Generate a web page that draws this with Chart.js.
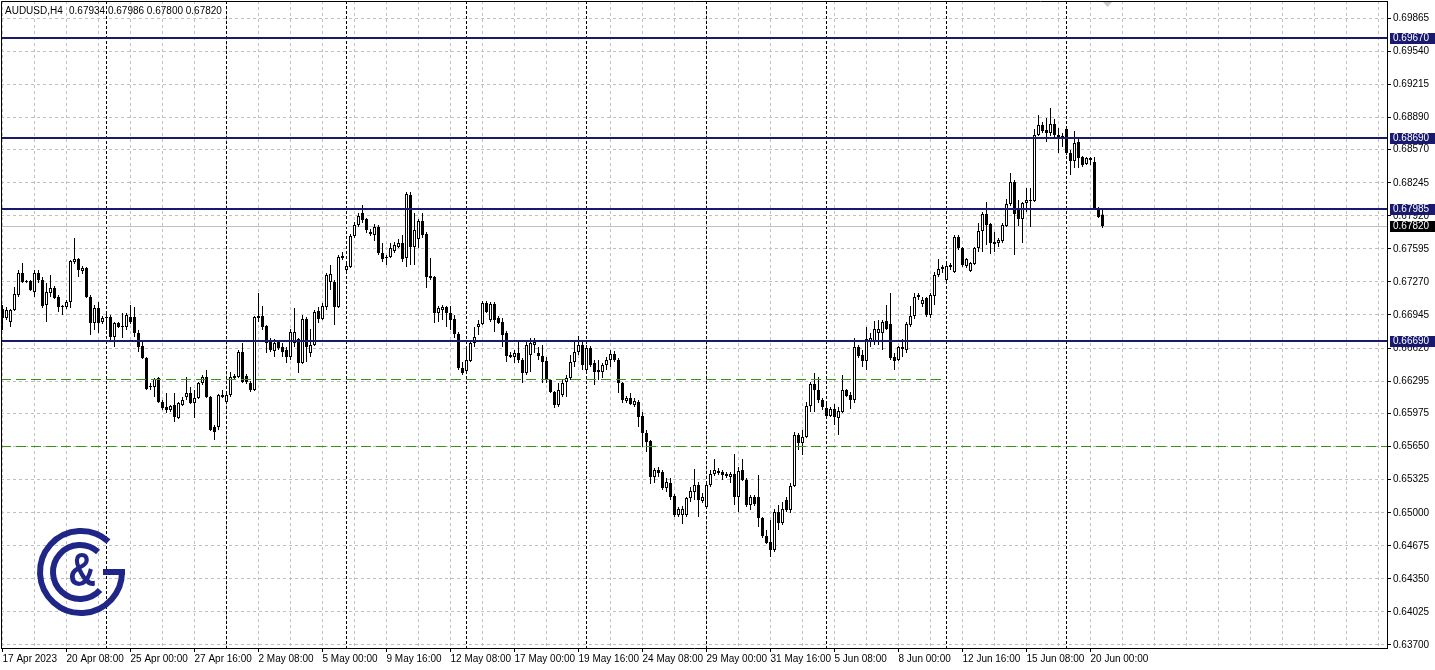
<!DOCTYPE html>
<html>
<head>
<meta charset="utf-8">
<title>AUDUSD,H4</title>
<script src="https://cdn.jsdelivr.net/npm/chart.js@4.4.0/dist/chart.umd.min.js"></script>
<style>
  html, body { margin: 0; padding: 0; background: #ffffff; }
  #wrap { width: 1435px; height: 670px; }
</style>
</head>
<body>
<div id="wrap"><canvas id="chart" width="1435" height="670"></canvas></div>
<script>
// AUDUSD H4, 17 Apr 2023 16:00 .. 20 Jun 2023 12:00, one entry per bar
const opens = [
  0.67004,0.66915,0.66876,0.66994,0.67141,0.67358,0.67279,0.67279,0.67171,0.67358,
  0.67289,0.67043,0.67161,0.67210,0.67122,0.67033,0.67023,0.67072,0.67466,0.67495,
  0.67377,0.67407,0.67122,0.66866,0.67013,0.66876,0.66925,0.66925,0.66728,0.66866,
  0.66827,0.66827,0.66925,0.66925,0.66768,0.66640,0.66522,0.66246,0.66237,0.66325,
  0.66089,0.66040,0.66010,0.66060,0.65932,0.66060,0.66138,0.66178,0.66079,0.66128,
  0.66276,0.66335,0.66138,0.65843,0.65843,0.66158,0.66089,0.66158,0.66345,0.66335,
  0.66581,0.66345,0.66276,0.66207,0.66915,0.66935,0.66836,0.66679,0.66591,0.66679,
  0.66630,0.66600,0.66532,0.66669,0.66709,0.66473,0.66905,0.66571,0.66650,0.66984,
  0.66905,0.67023,0.67269,0.67269,0.67023,0.67525,0.67387,0.67417,0.67721,0.67830,
  0.67948,0.67889,0.67761,0.67731,0.67810,0.67554,0.67515,0.67515,0.67574,0.67613,
  0.67653,0.67505,0.68125,0.67613,0.67692,0.67869,0.67741,0.67328,0.67318,0.66964,
  0.66994,0.67023,0.66964,0.66905,0.66758,0.66423,0.66394,0.66492,0.66669,0.66827,
  0.66856,0.67063,0.66895,0.67053,0.66915,0.66876,0.66768,0.66551,0.66532,0.66571,
  0.66502,0.66374,0.66551,0.66650,0.66571,0.66541,0.66492,0.66305,0.66187,0.66060,
  0.66158,0.66286,0.66325,0.66482,0.66581,0.66650,0.66404,0.66620,0.66473,0.66384,
  0.66384,0.66453,0.66502,0.66561,0.66502,0.66276,0.66099,0.66128,0.66060,0.66089,
  0.65951,0.65784,0.65706,0.65352,0.65420,0.65401,0.65243,0.65293,0.65165,0.64978,
  0.64978,0.64978,0.65145,0.65204,0.65273,0.65116,0.65057,0.65273,0.65381,0.65391,
  0.65401,0.65381,0.65352,0.65381,0.65155,0.65420,0.65322,0.65076,0.65155,0.65155,
  0.64948,0.64771,0.64712,0.64634,0.65007,0.64899,0.65125,0.65027,0.65263,0.65765,
  0.65686,0.65745,0.66050,0.66266,0.66207,0.66109,0.66030,0.65951,0.66020,0.65932,
  0.65991,0.66207,0.66158,0.66109,0.66630,0.66551,0.66492,0.66679,0.66689,0.66768,
  0.66768,0.66886,0.66856,0.66532,0.66502,0.66630,0.66600,0.66846,0.66935,0.67122,
  0.67053,0.67112,0.66945,0.67131,0.67338,0.67397,0.67289,0.67417,0.67367,0.67712,
  0.67603,0.67426,0.67377,0.67446,0.67603,0.67771,0.67938,0.67839,0.67662,0.67653,
  0.67672,0.67820,0.68036,0.68252,0.67997,0.67889,0.68046,0.68075,0.68066,0.68715,
  0.68813,0.68764,0.68734,0.68823,0.68715,0.68675,0.68774,0.68538,0.68459,0.68646,
  0.68498,0.68429,0.68488,0.68449,0.67997,0.67934
];
const highs = [
  0.67043,0.67023,0.67004,0.67220,0.67387,0.67456,0.67289,0.67289,0.67387,0.67387,
  0.67318,0.67259,0.67338,0.67230,0.67141,0.67043,0.67092,0.67485,0.67702,0.67505,
  0.67426,0.67417,0.67141,0.67043,0.67072,0.66935,0.66954,0.66945,0.66876,0.66876,
  0.66964,0.66964,0.67043,0.67023,0.66797,0.66679,0.66532,0.66276,0.66325,0.66335,
  0.66109,0.66178,0.66060,0.66178,0.66089,0.66138,0.66335,0.66237,0.66207,0.66286,
  0.66355,0.66404,0.66148,0.65863,0.66168,0.66207,0.66178,0.66384,0.66364,0.66600,
  0.66669,0.66364,0.66296,0.66935,0.67161,0.67033,0.66846,0.66718,0.66709,0.66699,
  0.66669,0.66630,0.66807,0.67013,0.66718,0.66945,0.66925,0.66807,0.66994,0.67023,
  0.67063,0.67358,0.67436,0.67289,0.67535,0.67564,0.67466,0.67741,0.67859,0.67948,
  0.68026,0.67898,0.67790,0.67839,0.67830,0.67653,0.67535,0.67653,0.67662,0.67692,
  0.67731,0.68154,0.68154,0.67948,0.67889,0.67948,0.67761,0.67505,0.67328,0.67033,
  0.67043,0.67033,0.67033,0.66945,0.66777,0.66482,0.66630,0.66699,0.66827,0.66895,
  0.67082,0.67082,0.67072,0.67072,0.66935,0.66915,0.66787,0.66581,0.66600,0.66679,
  0.66522,0.66679,0.66718,0.66718,0.66630,0.66650,0.66532,0.66315,0.66197,0.66276,
  0.66305,0.66355,0.66551,0.66699,0.66738,0.66699,0.66650,0.66640,0.66502,0.66502,
  0.66473,0.66532,0.66600,0.66591,0.66522,0.66286,0.66148,0.66178,0.66128,0.66109,
  0.65991,0.65814,0.65715,0.65440,0.65450,0.65420,0.65342,0.65342,0.65184,0.65057,
  0.65066,0.65155,0.65253,0.65430,0.65302,0.65194,0.65293,0.65420,0.65529,0.65440,
  0.65420,0.65401,0.65401,0.65578,0.65450,0.65529,0.65342,0.65174,0.65174,0.65371,
  0.64958,0.64830,0.64929,0.65037,0.65076,0.65106,0.65155,0.65293,0.65794,0.65784,
  0.65814,0.66089,0.66286,0.66374,0.66335,0.66128,0.66079,0.66040,0.66069,0.66040,
  0.66355,0.66217,0.66187,0.66718,0.66650,0.66600,0.66827,0.66768,0.66886,0.66895,
  0.66895,0.67043,0.67161,0.66571,0.66640,0.66709,0.66876,0.67033,0.67161,0.67161,
  0.67122,0.67122,0.67161,0.67367,0.67495,0.67436,0.67456,0.67456,0.67731,0.67731,
  0.67613,0.67505,0.67466,0.67613,0.67849,0.67958,0.68056,0.67849,0.67761,0.67702,
  0.67849,0.68085,0.68341,0.68272,0.68075,0.68056,0.68193,0.68193,0.68774,0.68911,
  0.68842,0.68882,0.68980,0.68872,0.68783,0.68734,0.68783,0.68567,0.68754,0.68675,
  0.68508,0.68498,0.68498,0.68498,0.68007,0.67986
];
const lows = [
  0.66797,0.66895,0.66827,0.66984,0.67122,0.67259,0.67259,0.67181,0.67122,0.67259,
  0.67013,0.66876,0.67122,0.67102,0.66974,0.66945,0.67004,0.67013,0.67446,0.67318,
  0.67348,0.67112,0.66748,0.66797,0.66768,0.66856,0.66797,0.66699,0.66630,0.66817,
  0.66718,0.66797,0.66856,0.66728,0.66581,0.66512,0.66207,0.66207,0.66138,0.66079,
  0.66010,0.65981,0.65991,0.65892,0.65922,0.66050,0.66109,0.66069,0.65932,0.66119,
  0.66256,0.66128,0.65804,0.65715,0.65814,0.66128,0.66069,0.66138,0.66305,0.66325,
  0.66276,0.66266,0.66187,0.66197,0.66876,0.66797,0.66571,0.66581,0.66532,0.66600,
  0.66532,0.66473,0.66502,0.66630,0.66374,0.66463,0.66482,0.66532,0.66640,0.66866,
  0.66895,0.66994,0.67190,0.66846,0.67013,0.67485,0.67367,0.67407,0.67702,0.67810,
  0.67849,0.67751,0.67721,0.67672,0.67535,0.67466,0.67436,0.67505,0.67554,0.67603,
  0.67466,0.67417,0.67436,0.67436,0.67603,0.67702,0.67210,0.67289,0.66866,0.66876,
  0.66895,0.66827,0.66797,0.66718,0.66404,0.66355,0.66374,0.66482,0.66630,0.66748,
  0.66846,0.66964,0.66876,0.66777,0.66856,0.66630,0.66482,0.66522,0.66473,0.66473,
  0.66276,0.66355,0.66384,0.66571,0.66502,0.66276,0.66276,0.66178,0.66030,0.66040,
  0.66138,0.66138,0.66305,0.66433,0.66551,0.66404,0.66384,0.66433,0.66256,0.66305,
  0.66325,0.66404,0.66433,0.66482,0.66178,0.66079,0.66079,0.66060,0.66040,0.65843,
  0.65647,0.65597,0.65283,0.65293,0.65352,0.65224,0.65204,0.65125,0.64958,0.64958,
  0.64889,0.64958,0.65106,0.65125,0.64958,0.65096,0.65047,0.65253,0.65361,0.65371,
  0.65322,0.65342,0.65293,0.65076,0.65007,0.65312,0.65057,0.65027,0.65066,0.64860,
  0.64752,0.64693,0.64565,0.64614,0.64830,0.64880,0.65007,0.64997,0.65253,0.65617,
  0.65568,0.65735,0.65991,0.65991,0.66079,0.66010,0.65932,0.65942,0.65863,0.65765,
  0.65981,0.66138,0.66020,0.66079,0.66522,0.66433,0.66404,0.66630,0.66650,0.66650,
  0.66600,0.66797,0.66502,0.66404,0.66492,0.66532,0.66571,0.66827,0.66905,0.67092,
  0.67023,0.66925,0.66915,0.67043,0.67318,0.67358,0.67269,0.67387,0.67358,0.67584,
  0.67417,0.67407,0.67367,0.67436,0.67564,0.67564,0.67633,0.67544,0.67564,0.67613,
  0.67653,0.67810,0.68016,0.67535,0.67820,0.67653,0.67957,0.67810,0.68056,0.68705,
  0.68734,0.68646,0.68705,0.68685,0.68538,0.68597,0.68518,0.68321,0.68390,0.68390,
  0.68400,0.68420,0.68420,0.67977,0.67898,0.67800
];
const closes = [
  0.66915,0.66994,0.66994,0.67151,0.67358,0.67269,0.67269,0.67190,0.67358,0.67289,
  0.67033,0.67171,0.67210,0.67112,0.67023,0.67023,0.67072,0.67476,0.67495,0.67387,
  0.67407,0.67122,0.66866,0.67013,0.66866,0.66915,0.66915,0.66728,0.66866,0.66827,
  0.66836,0.66945,0.66876,0.66768,0.66630,0.66522,0.66217,0.66237,0.66315,0.66089,
  0.66030,0.66010,0.66050,0.65942,0.66079,0.66109,0.66178,0.66079,0.66128,0.66276,
  0.66335,0.66138,0.65814,0.65794,0.66158,0.66138,0.66158,0.66335,0.66325,0.66581,
  0.66286,0.66286,0.66207,0.66925,0.66935,0.66827,0.66669,0.66600,0.66669,0.66620,
  0.66581,0.66532,0.66777,0.66777,0.66473,0.66905,0.66630,0.66650,0.66974,0.66905,
  0.67033,0.67338,0.67348,0.67023,0.67515,0.67505,0.67426,0.67721,0.67830,0.67918,
  0.67879,0.67780,0.67741,0.67810,0.67554,0.67495,0.67505,0.67603,0.67633,0.67653,
  0.67495,0.68134,0.67613,0.67780,0.67869,0.67731,0.67318,0.67308,0.66964,0.67013,
  0.67023,0.66964,0.66895,0.66758,0.66423,0.66374,0.66502,0.66669,0.66728,0.66856,
  0.67063,0.66974,0.67053,0.66895,0.66866,0.66748,0.66541,0.66532,0.66571,0.66502,
  0.66374,0.66650,0.66669,0.66679,0.66541,0.66482,0.66305,0.66187,0.66060,0.66207,
  0.66276,0.66325,0.66482,0.66581,0.66650,0.66453,0.66620,0.66453,0.66384,0.66404,
  0.66453,0.66502,0.66561,0.66502,0.66276,0.66109,0.66128,0.66069,0.66099,0.65942,
  0.65784,0.65696,0.65352,0.65420,0.65391,0.65243,0.65302,0.65155,0.64978,0.65037,
  0.65037,0.65145,0.65214,0.65273,0.65125,0.65155,0.65273,0.65381,0.65420,0.65410,
  0.65371,0.65361,0.65381,0.65155,0.65410,0.65322,0.65076,0.65155,0.65086,0.64948,
  0.64771,0.64703,0.64634,0.65007,0.64899,0.65037,0.65027,0.65263,0.65765,0.65686,
  0.65745,0.66050,0.66266,0.66207,0.66109,0.66040,0.65951,0.66020,0.65942,0.66001,
  0.66207,0.66148,0.66109,0.66630,0.66541,0.66492,0.66709,0.66718,0.66807,0.66807,
  0.66876,0.66807,0.66522,0.66492,0.66630,0.66610,0.66856,0.66935,0.67122,0.67141,
  0.67092,0.66945,0.67141,0.67338,0.67397,0.67417,0.67426,0.67436,0.67712,0.67603,
  0.67436,0.67495,0.67456,0.67603,0.67771,0.67938,0.67830,0.67653,0.67643,0.67682,
  0.67830,0.68036,0.68252,0.67938,0.67889,0.68046,0.68075,0.68066,0.68715,0.68813,
  0.68754,0.68734,0.68823,0.68715,0.68675,0.68705,0.68538,0.68459,0.68636,0.68488,
  0.68420,0.68488,0.68469,0.67997,0.67908,0.67820
];

// one time label every 16 bars, starting at bar 0
const timeLabels = ["17 Apr 2023","20 Apr 08:00","25 Apr 00:00","27 Apr 16:00","2 May 08:00",
  "5 May 00:00","9 May 16:00","12 May 08:00","17 May 00:00","19 May 16:00","24 May 08:00",
  "29 May 00:00","31 May 16:00","5 Jun 08:00","8 Jun 00:00","12 Jun 16:00","15 Jun 08:00","20 Jun 00:00"];
const priceTicks = [0.69865,0.69540,0.69215,0.68890,0.68570,0.68245,0.67920,0.67595,0.67270,0.66945,
  0.66620,0.66295,0.65975,0.65650,0.65325,0.65000,0.64675,0.64350,0.64025,0.63700];
const weekStarts = [26, 56, 86, 116, 146, 176, 206, 236, 266]; // Monday 00:00 bars
const levels = [0.69670, 0.68690, 0.67985, 0.66690];
const greenLines = [[0.66320, 0, 235], [0.65655, 0, null]]; // price, from bar, to bar
const lastBid = 0.67820;
const symbolText = "AUDUSD,H4";
const ohlcText = "0.67934 0.67986 0.67800 0.67820";

const NAVY = '#191970';
const FONT = '"Liberation Sans", Arial, sans-serif';

const wickData = opens.map((o, i) => ({ x: i, y: [lows[i], highs[i]] }));
const bodyData = opens.map((o, i) => ({ x: i, y: [o, closes[i]] }));
const isUp = i => closes[i] >= opens[i];

const mtPlugin = {
  id: 'mt',
  beforeDatasetsDraw(chart) {
    const { ctx, chartArea: a, scales: { x, y } } = chart;
    ctx.save();
    // period separators
    ctx.strokeStyle = '#000';
    ctx.lineWidth = 1;
    ctx.setLineDash([3, 2]);
    weekStarts.forEach(i => {
      const px = x.getPixelForValue(i);
      ctx.beginPath();
      ctx.moveTo(px, a.top);
      ctx.lineTo(px, a.bottom);
      ctx.stroke();
    });
    // bid line
    ctx.setLineDash([]);
    ctx.strokeStyle = '#c0c0c0';
    const by = Math.round(y.getPixelForValue(lastBid)) + 0.5;
    ctx.beginPath();
    ctx.moveTo(a.left, by);
    ctx.lineTo(a.right, by);
    ctx.stroke();
    ctx.restore();
  },
  afterDatasetsDraw(chart) {
    const { ctx, chartArea: a, scales: { x, y } } = chart;
    ctx.save();
    // green dashed trend lines
    ctx.strokeStyle = '#3a9410';
    ctx.lineWidth = 1;
    ctx.setLineDash([10, 5]);
    greenLines.forEach(([p, from, to]) => {
      const py = Math.round(y.getPixelForValue(p)) + 0.5;
      const x1 = from === 0 ? a.left : x.getPixelForValue(from);
      const x2 = to === null ? a.right : x.getPixelForValue(to);
      ctx.beginPath();
      ctx.moveTo(x1, py);
      ctx.lineTo(x2, py);
      ctx.stroke();
    });
    // horizontal levels
    ctx.fillStyle = NAVY;
    levels.forEach(p => {
      const py = Math.round(y.getPixelForValue(p));
      ctx.fillRect(a.left, py - 1, a.right - a.left, 2);
    });
    ctx.restore();
  },
  afterDraw(chart) {
    const { ctx, chartArea: a, scales: { y } } = chart;
    ctx.save();
    // frame
    ctx.strokeStyle = '#000';
    ctx.lineWidth = 1;
    ctx.beginPath();
    ctx.moveTo(1.5, a.bottom);
    ctx.lineTo(1.5, 1.5);
    ctx.lineTo(a.right, 1.5);
    ctx.stroke();

    // price tags on the axis
    ctx.font = '10px ' + FONT;
    ctx.textBaseline = 'middle';
    ctx.textAlign = 'left';
    const tag = (p, bg) => {
      const py = Math.round(y.getPixelForValue(p));
      ctx.fillStyle = bg;
      ctx.fillRect(a.right + 3, py - 5, 45, 11);
      ctx.fillStyle = '#fff';
      ctx.fillText(p.toFixed(5), a.right + 6, py + 0.5);
    };
    levels.forEach(p => tag(p, NAVY));
    tag(lastBid, '#000');

    // header
    ctx.fillStyle = '#000';
    ctx.fillText(symbolText, 5, 11);
    ctx.fillText(ohlcText, 69, 11);

    // chart shift marker
    ctx.fillStyle = '#c8c8c8';
    ctx.beginPath();
    ctx.moveTo(1103, 2);
    ctx.lineTo(1112, 2);
    ctx.lineTo(1107.5, 7);
    ctx.closePath();
    ctx.fill();

    // logo
    const cx = 81, cy = 572;
    ctx.strokeStyle = '#1f2687';
    ctx.fillStyle = '#1f2687';
    ctx.lineWidth = 6;
    ctx.lineCap = 'butt';
    ctx.beginPath();
    ctx.arc(cx, cy, 41, -48 * Math.PI / 180, 0, true);
    ctx.stroke();
    ctx.fillRect(cx + 22, cy - 3, 22, 6);
    ctx.beginPath();
    ctx.arc(cx - 1, cy, 27, -48 * Math.PI / 180, 42 * Math.PI / 180, true);
    ctx.stroke();
    ctx.save();
    ctx.translate(cx + 1, cy + 1);
    ctx.scale(0.8, 1);
    ctx.font = 'bold 48px ' + FONT;
    ctx.textAlign = 'center';
    ctx.textBaseline = 'middle';
    ctx.fillText('&', 0, 0);
    ctx.restore();

    ctx.restore();
  }
};

Chart.defaults.font.family = FONT;
Chart.defaults.font.size = 10;
Chart.defaults.color = '#000';

new Chart(document.getElementById('chart'), {
  type: 'bar',
  data: {
    datasets: [
      {
        label: 'body',
        data: bodyData,
        grouped: false,
        barThickness: 3,
        minBarLength: 1,
        borderWidth: 1,
        borderSkipped: false,
        inflateAmount: 0,
        borderColor: '#000',
        backgroundColor: c => isUp(c.dataIndex) ? '#ffffff' : '#000000'
      },
      {
        label: 'wick',
        data: wickData,
        grouped: false,
        barThickness: 1,
        borderWidth: 0,
        inflateAmount: 0,
        backgroundColor: '#000'
      }
    ]
  },
  options: {
    responsive: false,
    animation: false,
    devicePixelRatio: 1,
    layout: { padding: { left: 1, top: 1, right: 0, bottom: 0 } },
    plugins: { legend: { display: false }, tooltip: { enabled: false } },
    scales: {
      x: {
        type: 'linear',
        offset: false,
        min: -0.375,
        max: 346.125,
        afterBuildTicks: s => {
          const t = [];
          for (let v = 0; v <= 344; v += 8) t.push({ value: v });
          s.ticks = t;
        },
        afterFit: s => { s.height = 22; s.paddingLeft = 0; s.paddingRight = 0; },
        grid: {
          offset: false,
          color: '#c0c0c0',
          tickLength: 4,
          tickColor: c => (c.tick && c.tick.value % 16 === 0 && c.tick.value / 16 < timeLabels.length) ? '#000' : 'rgba(0,0,0,0)'
        },
        border: { display: true, color: '#000', width: 1, dash: [3, 3] },
        ticks: {
          autoSkip: false,
          maxRotation: 0,
          minRotation: 0,
          align: 'start',
          padding: 1,
          color: '#000',
          callback: v => (v % 16 === 0 && v / 16 < timeLabels.length) ? timeLabels[v / 16] : ''
        }
      },
      y: {
        position: 'right',
        min: 0.636704,
        max: 0.700322,
        afterBuildTicks: s => { s.ticks = priceTicks.map(v => ({ value: v })); },
        afterFit: s => { s.width = 48; s.paddingTop = 0; s.paddingBottom = 0; },
        grid: { color: '#c0c0c0', tickLength: 4, tickColor: '#000' },
        border: { display: true, color: '#000', width: 1, dash: [3, 3] },
        ticks: { autoSkip: false, padding: 2, color: '#000', callback: v => v.toFixed(5) }
      }
    }
  },
  plugins: [mtPlugin]
});
</script>
</body>
</html>
